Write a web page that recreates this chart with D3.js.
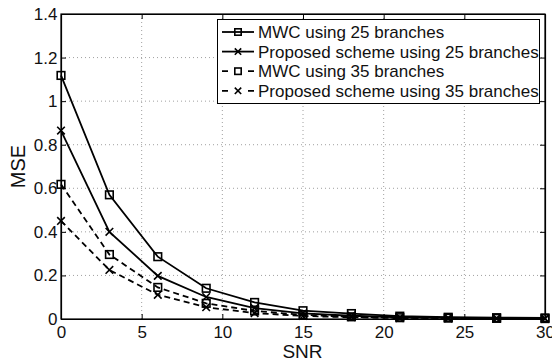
<!DOCTYPE html>
<html>
<head>
<meta charset="utf-8">
<script src="https://cdn.jsdelivr.net/npm/d3@7"></script>
<style>
  html, body { margin: 0; padding: 0; background: #fff; }
  svg { display: block; font-family: "Liberation Sans", Arial, sans-serif; }
</style>
</head>
<body>
<div id="chart"></div>
<script>
// SNR points and MSE curves
const snr = [0, 3, 6, 9, 12, 15, 18, 21, 24, 27, 30];
const mwc25 = [1.118, 0.57, 0.286, 0.141, 0.076, 0.038, 0.025, 0.013, 0.008, 0.006, 0.005];
const prop25 = [0.865, 0.40, 0.198, 0.101, 0.05, 0.026, 0.015, 0.008, 0.005, 0.003, 0.002];
const mwc35 = [0.618, 0.296, 0.145, 0.072, 0.037, 0.019, 0.010, 0.006, 0.004, 0.003, 0.002];
const prop35 = [0.45, 0.225, 0.111, 0.054, 0.027, 0.014, 0.008, 0.004, 0.003, 0.002, 0.001];
const seriesNames = [
    "MWC using 25 branches",
    "Proposed scheme using 25 branches",
    "MWC using 35 branches",
    "Proposed scheme using 35 branches"
];
const xTicks = [0, 5, 10, 15, 20, 25, 30];
const yTicks = [0, 0.2, 0.4, 0.6, 0.8, 1, 1.2, 1.4];

(function () {
    const width = 552, height = 363;
    const m = { t: 14, r: 7, b: 44, l: 61 };
    const iw = width - m.l - m.r, ih = height - m.t - m.b;

    const svg = d3.select("#chart").append("svg").attr("width", width).attr("height", height);
    const g = svg.append("g").attr("transform", `translate(${m.l},${m.t})`);

    const x = d3.scaleLinear().domain([0, 30]).range([0, iw]);
    const y = d3.scaleLinear().domain([0, 1.4]).range([ih, 0]);

    // dotted grid
    g.append("g").selectAll("line").data(xTicks.slice(1, -1)).enter().append("line")
        .attr("x1", d => x(d)).attr("x2", d => x(d)).attr("y1", 0).attr("y2", ih)
        .attr("stroke", "#888").attr("stroke-width", 0.8).attr("stroke-dasharray", "1,3");
    g.append("g").selectAll("line").data(yTicks.slice(1, -1)).enter().append("line")
        .attr("y1", d => y(d)).attr("y2", d => y(d)).attr("x1", 0).attr("x2", iw)
        .attr("stroke", "#888").attr("stroke-width", 0.8).attr("stroke-dasharray", "1,3");

    // axes (inward ticks, matlab style)
    const fs = 17;
    const ax = (sel) => sel.selectAll("text").attr("font-size", fs).attr("fill", "#111")
        .attr("font-family", "Liberation Sans, Arial, sans-serif");
    const xb = g.append("g").attr("transform", `translate(0,${ih})`)
        .call(d3.axisBottom(x).tickValues(xTicks).tickSize(-5).tickPadding(7).tickSizeOuter(0));
    ax(xb);
    const yl = g.append("g")
        .call(d3.axisLeft(y).tickValues(yTicks).tickSize(-5).tickPadding(3.5).tickSizeOuter(0)
            .tickFormat(d => d3.format("")(+d.toFixed(1))));
    ax(yl);
    g.append("g").call(d3.axisTop(x).tickValues(xTicks).tickSize(-5).tickFormat("").tickSizeOuter(0));
    g.append("g").attr("transform", `translate(${iw},0)`)
        .call(d3.axisRight(y).tickValues(yTicks).tickSize(-5).tickFormat("").tickSizeOuter(0));
    g.selectAll(".domain").attr("stroke", "#000").attr("stroke-width", 1.2);
    g.selectAll(".tick line").attr("stroke", "#000").attr("stroke-width", 1);
    g.append("rect").attr("width", iw).attr("height", ih)
        .attr("fill", "none").attr("stroke", "#000").attr("stroke-width", 1.2);

    // labels
    svg.append("text").attr("x", 302.5).attr("y", 358).attr("text-anchor", "middle")
        .attr("font-size", 19).attr("fill", "#111").text("SNR");
    svg.append("text").attr("transform", `translate(25,${m.t + ih / 2}) rotate(-90)`)
        .attr("text-anchor", "middle").attr("font-size", 20).attr("fill", "#111").text("MSE");

    const series = [
        { vals: mwc25, dash: null, mark: "sq" },
        { vals: prop25, dash: null, mark: "x" },
        { vals: mwc35, dash: "6,4", mark: "sq" },
        { vals: prop35, dash: "6,4", mark: "x" }
    ];

    function marker(sel, type, cx, cy, s) {
        const r = s || 3.8;
        if (type === "sq") {
            sel.append("rect").attr("x", cx - r).attr("y", cy - r).attr("width", 2 * r).attr("height", 2 * r)
                .attr("fill", "none").attr("stroke", "#000").attr("stroke-width", 1.6);
        } else {
            sel.append("path").attr("d", `M${cx - r},${cy - r}L${cx + r},${cy + r}M${cx - r},${cy + r}L${cx + r},${cy - r}`)
                .attr("fill", "none").attr("stroke", "#000").attr("stroke-width", 1.6);
        }
    }

    const line = d3.line().x((d, i) => x(snr[i])).y(d => y(d));
    series.forEach(s => {
        g.append("path").datum(s.vals).attr("d", line).attr("fill", "none")
            .attr("stroke", "#000").attr("stroke-width", 1.8)
            .attr("stroke-dasharray", s.dash);
        const mg = g.append("g");
        s.vals.forEach((v, i) => marker(mg, s.mark, x(snr[i]), y(v)));
    });

    // legend
    const lg = svg.append("g");
    lg.append("rect").attr("x", 217.5).attr("y", 19.5).attr("width", 322).attr("height", 84)
        .attr("fill", "#fff").attr("stroke", "#000").attr("stroke-width", 1);
    series.forEach((s, i) => {
        const ly = 32 + i * 19.6;
        lg.append("line").attr("x1", 222).attr("x2", 254).attr("y1", ly).attr("y2", ly)
            .attr("stroke", "#000").attr("stroke-width", 1.8).attr("stroke-dasharray", s.dash ? "6,20,6" : null);
        marker(lg, s.mark, 238, ly, 3.2);
        lg.append("text").attr("x", 258).attr("y", ly).attr("dy", "0.36em")
            .attr("font-size", 17).attr("fill", "#111").text(seriesNames[i]);
    });
})();
</script>
</body>
</html>
